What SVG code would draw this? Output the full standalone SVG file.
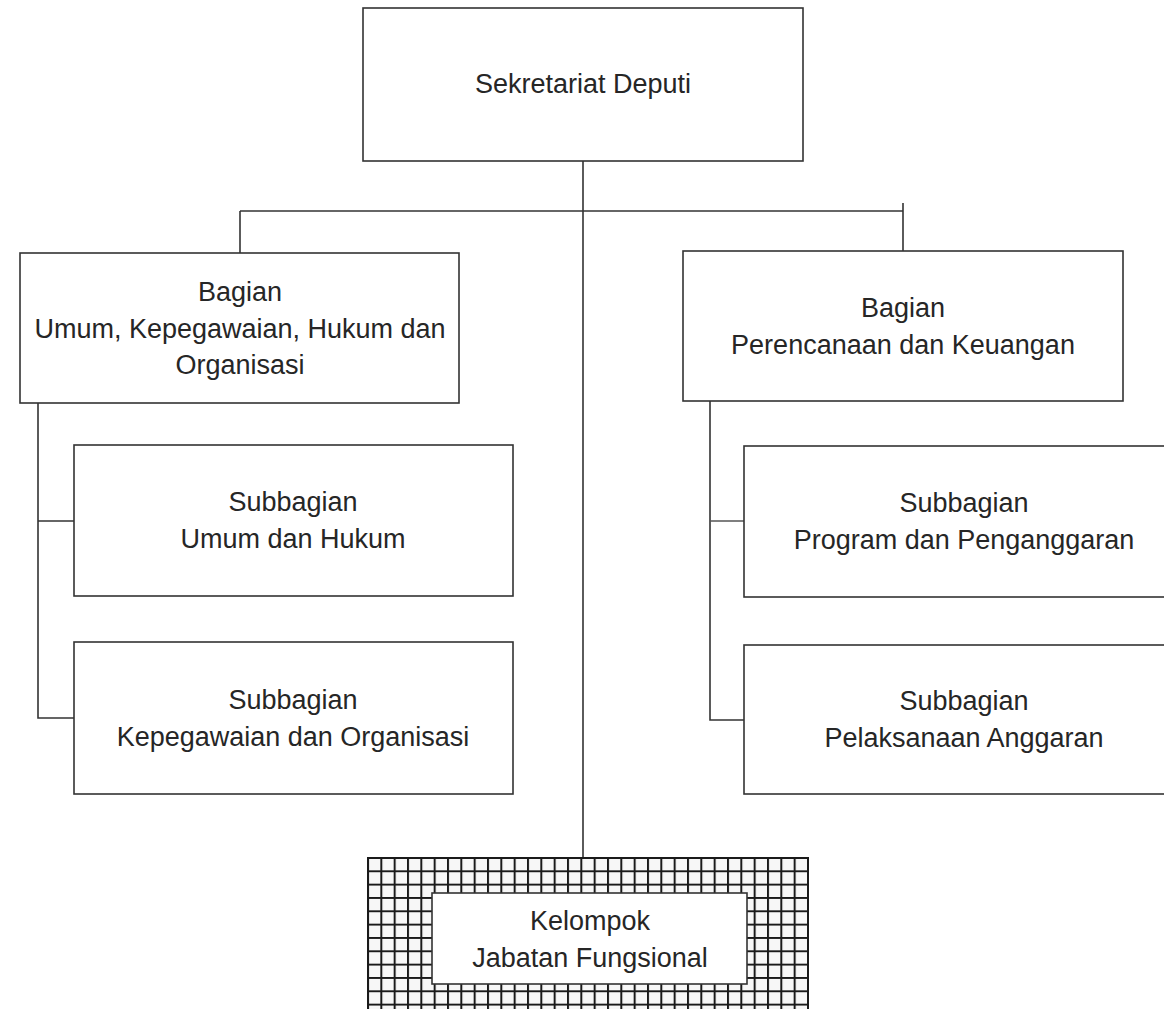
<svg xmlns="http://www.w3.org/2000/svg" width="1164" height="1009" viewBox="0 0 1164 1009">
<style>
  .box { fill: #ffffff; stroke: #333333; stroke-width: 1.6; }
  .conn { fill: none; stroke: #333333; stroke-width: 1.6; }
  .lbl { font-family: "Liberation Sans", Arial, sans-serif; font-size: 27px; fill: #262626; text-anchor: middle; }
</style>
<defs>
  <pattern id="grid" patternUnits="userSpaceOnUse" x="367" y="857" width="13.333" height="13.333">
    <rect x="0" y="0" width="13.333" height="13.333" fill="#f7f7f7"/>
    <path d="M0 1H13.333M1 0V13.333" stroke="#1a1a1a" stroke-width="2"/>
  </pattern>
</defs>
<rect width="1164" height="1009" fill="#ffffff"/>

<g id="connectors">
  <path class="conn" d="M583 161V858"/>
  <path class="conn" d="M240 211H903"/>
  <path class="conn" d="M240 211V253"/>
  <path class="conn" d="M903 203V251"/>
  <path class="conn" d="M38 403V718H74"/>
  <path class="conn" d="M38 521H74"/>
  <path class="conn" d="M710 401V720H744"/>
  <path class="conn" d="M710 521H744" style="stroke:#555555"/>
</g>

<g id="sekretariat-deputi">
  <rect class="box" x="363" y="8" width="440" height="153"/>
  <text class="lbl" x="583" y="93">Sekretariat Deputi</text>
</g>

<g id="bagian-umum">
  <rect class="box" x="20" y="253" width="439" height="150"/>
  <text class="lbl" x="240" y="301">Bagian</text>
  <text class="lbl" x="240" y="338">Umum, Kepegawaian, Hukum dan</text>
  <text class="lbl" x="240" y="374">Organisasi</text>
</g>

<g id="bagian-perencanaan">
  <rect class="box" x="683" y="251" width="440" height="150"/>
  <text class="lbl" x="903" y="317">Bagian</text>
  <text class="lbl" x="903" y="354">Perencanaan dan Keuangan</text>
</g>

<g id="subbagian-umum-hukum">
  <rect class="box" x="74" y="445" width="439" height="151"/>
  <text class="lbl" x="293" y="511">Subbagian</text>
  <text class="lbl" x="293" y="548">Umum dan Hukum</text>
</g>

<g id="subbagian-kepegawaian">
  <rect class="box" x="74" y="642" width="439" height="152"/>
  <text class="lbl" x="293" y="709">Subbagian</text>
  <text class="lbl" x="293" y="746">Kepegawaian dan Organisasi</text>
</g>

<g id="subbagian-program">
  <rect class="box" x="744" y="446" width="440" height="151"/>
  <text class="lbl" x="964" y="512">Subbagian</text>
  <text class="lbl" x="964" y="549">Program dan Penganggaran</text>
</g>

<g id="subbagian-pelaksanaan">
  <rect class="box" x="744" y="645" width="440" height="149"/>
  <text class="lbl" x="964" y="710">Subbagian</text>
  <text class="lbl" x="964" y="747">Pelaksanaan Anggaran</text>
</g>

<g id="kelompok-jabatan-fungsional">
  <rect x="368" y="858" width="440" height="160" fill="url(#grid)" stroke="#1a1a1a" stroke-width="2"/>
  <rect class="box" x="432" y="893" width="315" height="91" stroke-width="2"/>
  <text class="lbl" x="590" y="930">Kelompok</text>
  <text class="lbl" x="590" y="967">Jabatan Fungsional</text>
</g>
</svg>
